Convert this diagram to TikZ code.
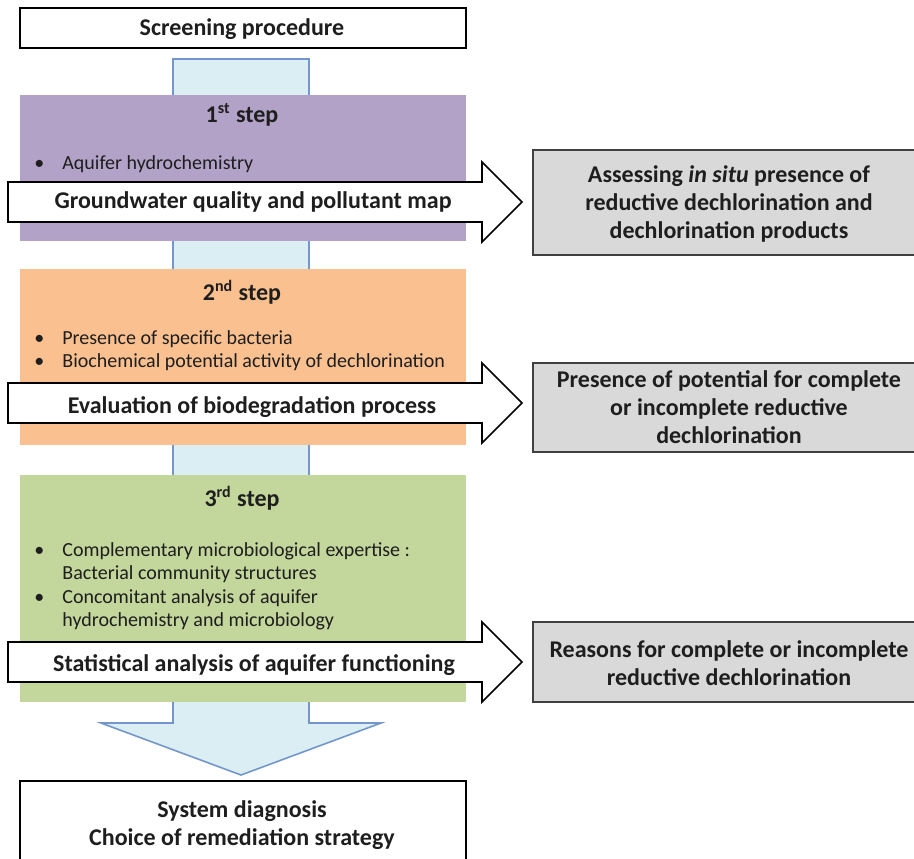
\documentclass[tikz,border=0pt]{standalone}
\usepackage{fontspec}
\setmainfont{Carlito}
\definecolor{purp}{HTML}{B3A2C7}
\definecolor{orng}{HTML}{FAC090}
\definecolor{olive}{HTML}{C3D69B}
\definecolor{lblue}{HTML}{DBEEF4}
\definecolor{bblue}{HTML}{7397CB}
\definecolor{lgray}{HTML}{D9D9D9}
\definecolor{dgray}{HTML}{404040}
\definecolor{ink}{HTML}{1E1E1E}
\newcommand\bigfont{\fontsize{12pt}{14pt}\selectfont\bfseries}
\newcommand\smallfont{\fontsize{10pt}{11.75pt}\selectfont}
\newcommand\mylines[1]{\begin{tabular}[t]{@{}c@{}}#1\end{tabular}}
\newcommand\mybullets[1]{\begin{tabular}[t]{@{}p{14pt}@{}l@{}}#1\end{tabular}}
\begin{document}
\begin{tikzpicture}[x=0.5pt,y=-0.5pt,
  bigtext/.style={font=\bigfont, text=ink, inner sep=0pt, anchor=base},
  smalltext/.style={font=\smallfont, text=ink, inner sep=0pt, anchor=base west},
  flow/.style={fill=lblue, draw=bblue, line width=0.8pt, line join=miter},
  blockarrow/.style={fill=white, draw=black, line width=0.8pt, line join=miter},
  resultbox/.style={fill=lgray, draw=dgray, line width=1pt},
  framebox/.style={fill=white, draw=black, line width=1pt}]
\useasboundingbox (0,0) rectangle (914,858);
% central flow column with final arrow head
\draw[flow] (173,59) -- (309,59) -- (309,723) -- (381,723) -- (241,775)
  -- (101,723) -- (173,723) -- cycle;
% screening box
\draw[framebox] (20,8) rectangle (466,48);
% step boxes
\fill[purp] (20,95) rectangle (466,241);
\fill[orng] (20,269) rectangle (466,445);
\fill[olive] (20,475) rectangle (466,702);
% block arrows
\draw[blockarrow] (8,182) -- (482,182) -- (482,162) -- (522,202) -- (482,242)
  -- (482,222) -- (8,222) -- cycle;
\draw[blockarrow] (8,383) -- (482,383) -- (482,363) -- (522,403) -- (482,443)
  -- (482,423) -- (8,423) -- cycle;
\draw[blockarrow] (8,642) -- (482,642) -- (482,622) -- (522,662) -- (482,702)
  -- (482,682) -- (8,682) -- cycle;
% result boxes
\draw[resultbox] (533,150) rectangle (940,255);
\draw[resultbox] (533,363) rectangle (940,452);
\draw[resultbox] (533,622) rectangle (940,702);
% final box
\draw[framebox] (20,781) rectangle (466,900);
% texts
\node[bigtext] (screen) at (242,35) {Screening procedure};
\node[bigtext] (step1) at (242,122) {1\textsuperscript{st} step};
\node[smalltext] (list1) at (34,169) {\mybullets{•&Aquifer hydrochemistry}};
\node[bigtext] (arr1) at (253,208) {Groundwater quality and pollutant map};
\node[bigtext] (step2) at (242,300) {2\textsuperscript{nd} step};
\node[smalltext] (list2) at (34,344) {\mybullets{•&Presence of specific bacteria\\
  •&Biochemical potential activity of dechlorination}};
\node[bigtext] (arr2) at (252,413) {Evaluation of biodegradation process};
\node[bigtext] (step3) at (242,506) {3\textsuperscript{rd} step};
\node[smalltext] (list3) at (34,556) {\mybullets{•&Complementary microbiological expertise :\\
  &Bacterial community structures\\
  •&Concomitant analysis of aquifer\\
  &hydrochemistry and microbiology}};
\node[bigtext] (arr3) at (254,671) {Statistical analysis of aquifer functioning};
\node[bigtext] (final) at (242,817) {\mylines{System diagnosis\\Choice of remediation strategy}};
\node[bigtext] (res1) at (729,182) {\mylines{Assessing \textit{in situ} presence of\\
  reductive dechlorination and\\dechlorination products}};
\node[bigtext] (res2) at (729,387) {\mylines{Presence of potential for complete\\
  or incomplete reductive\\dechlorination}};
\node[bigtext] (res3) at (729,657) {\mylines{Reasons for complete or incomplete\\
  reductive dechlorination}};
\end{tikzpicture}
\end{document}
